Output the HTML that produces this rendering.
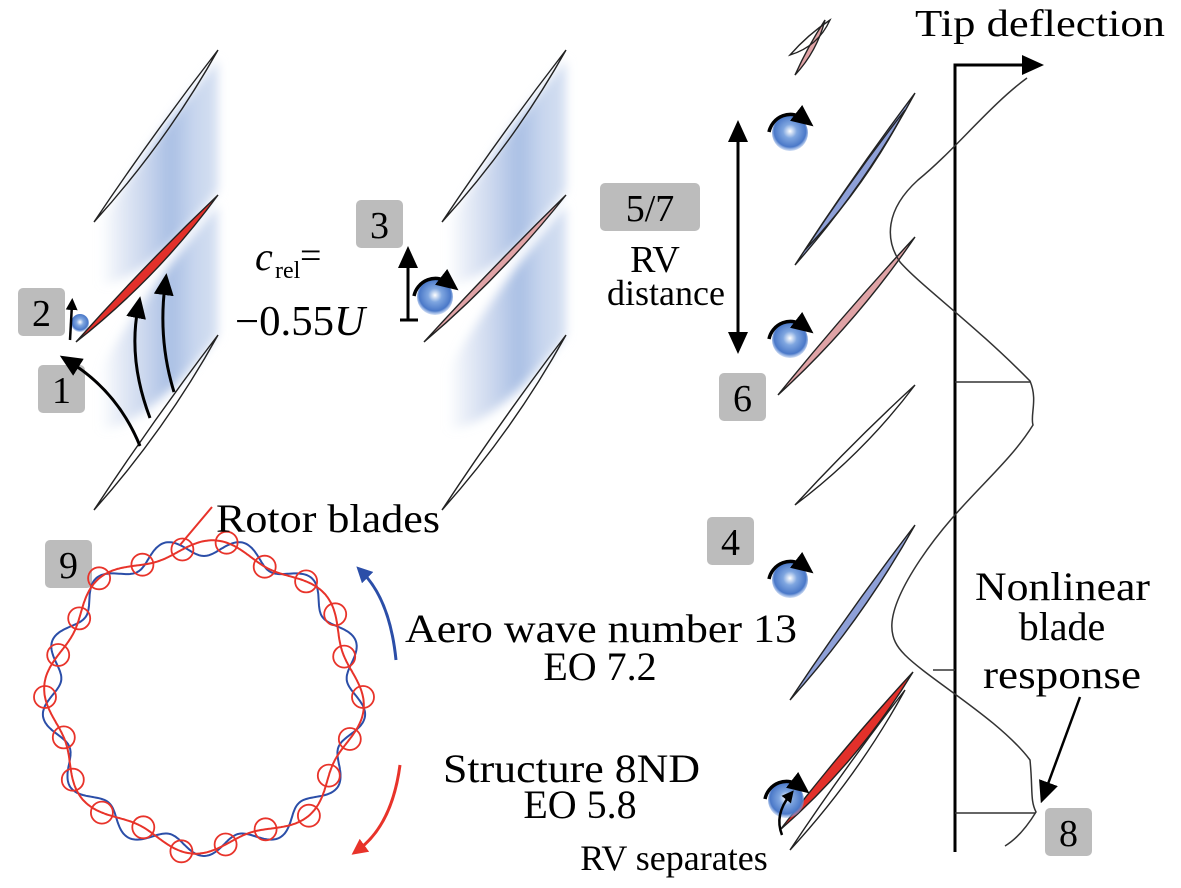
<!DOCTYPE html>
<html><head><meta charset="utf-8"><style>
html,body{margin:0;padding:0;background:#fff;}
svg{display:block;font-family:"Liberation Serif",serif;}
</style></head><body>
<svg id="s" width="1181" height="888" viewBox="0 0 1181 888" xmlns="http://www.w3.org/2000/svg">
<defs>
<radialGradient id="ball" cx="0.5" cy="0.45" r="0.55">
<stop offset="0" stop-color="#fff"/><stop offset="0.35" stop-color="#7fa6e0"/><stop offset="0.8" stop-color="#4a78c8"/><stop offset="1" stop-color="#8fb0e6" stop-opacity="0.4"/>
</radialGradient>
<linearGradient id="band" x1="0" y1="0" x2="1" y2="0">
<stop offset="0" stop-color="#c6d4ec" stop-opacity="0"/><stop offset="0.35" stop-color="#cfdaef"/><stop offset="0.6" stop-color="#a9bfe4"/><stop offset="0.8" stop-color="#c8d6ee"/><stop offset="1" stop-color="#d5e0f2"/>
</linearGradient>
<filter id="bl" x="-20%" y="-20%" width="140%" height="140%"><feGaussianBlur stdDeviation="5"/></filter>
<marker id="ah" markerWidth="12" markerHeight="12" refX="6" refY="6" orient="auto" markerUnits="userSpaceOnUse" viewBox="0 0 12 12"><path d="M0,0 L12,6 L0,12 z"/></marker>
<marker id="ahb" markerWidth="22" markerHeight="20" refX="10" refY="10" orient="auto" markerUnits="userSpaceOnUse" viewBox="0 0 22 20"><path d="M0,0 L22,10 L0,20 z" fill="#000"/></marker>
<marker id="ahblue" markerWidth="16" markerHeight="16" refX="8" refY="8" orient="auto" markerUnits="userSpaceOnUse" viewBox="0 0 16 16"><path d="M0,0 L16,8 L0,16 z" fill="#2b4ea8"/></marker>
<marker id="ahred" markerWidth="16" markerHeight="16" refX="8" refY="8" orient="auto" markerUnits="userSpaceOnUse" viewBox="0 0 16 16"><path d="M0,0 L16,8 L0,16 z" fill="#e8332a"/></marker>
</defs>
<g id="g"></g>

<text x="915" y="36" font-size="38" textLength="250" lengthAdjust="spacingAndGlyphs">Tip deflection</text>
<text x="255" y="270" font-size="40" font-style="italic">c</text><text x="275" y="278" font-size="24">rel</text><text x="300" y="268" font-size="38">=</text>
<text x="235" y="335" font-size="42" textLength="130" lengthAdjust="spacingAndGlyphs">−0.55<tspan font-style="italic">U</tspan></text>
<text x="655" y="272" font-size="38" text-anchor="middle">RV</text>
<text x="666" y="305" font-size="36" text-anchor="middle">distance</text>
<text x="216" y="532" font-size="40" textLength="224" lengthAdjust="spacingAndGlyphs">Rotor blades</text>
<text x="405" y="642" font-size="40" textLength="392" lengthAdjust="spacingAndGlyphs">Aero wave number 13</text>
<text x="600" y="680" font-size="40" text-anchor="middle">EO 7.2</text>
<text x="443" y="782" font-size="40" textLength="257" lengthAdjust="spacingAndGlyphs">Structure 8ND</text>
<text x="580" y="818" font-size="40" text-anchor="middle">EO 5.8</text>
<text x="674" y="870" font-size="36" text-anchor="middle">RV separates</text>
<text x="975" y="600" font-size="40" textLength="175" lengthAdjust="spacingAndGlyphs">Nonlinear</text>
<text x="1062" y="640" font-size="40" text-anchor="middle">blade</text>
<text x="983" y="688" font-size="40" textLength="158" lengthAdjust="spacingAndGlyphs">response</text>
</svg>
<script>
var g=document.getElementById('g');var h='';
function add(s){h+=s;}
function bands(ox){
 for(var k=0;k<2;k++){
  var y0=[50,195][k];
  add('<path d="M'+(ox+218)+','+(y0+10)+' L'+(ox+218)+','+(y0+140)+' Q'+(ox+150)+','+(y0+230)+' '+(ox+100)+','+(y0+235)+' L'+(ox+100)+','+(y0+175)+' Q'+(ox+150)+','+(y0+90)+' '+(ox+218)+','+(y0+10)+' z" fill="url(#band)" filter="url(#bl)"/>');
 }
}
bands(0);bands(348);
function blade(x1,y1,x2,y2,fill,w){
 var mx=(x1+x2)/2,my=(y1+y2)/2,dx=x2-x1,dy=y2-y1,L=Math.hypot(dx,dy),nx=-dy/L,ny=dx/L;
 w=w||6;
 var c1=(mx+nx*w*2)+','+(my+ny*w*2),c2=(mx-nx*w*0.6)+','+(my-ny*w*0.6);
 add('<path d="M'+x1+','+y1+' Q'+c1+' '+x2+','+y2+' Q'+c2+' '+x1+','+y1+' z" fill="'+(fill||'none')+'" stroke="#222" stroke-width="1.4"/>');
}
blade(94,222,218,50);blade(76,342,218,195,'#e2302a',7);blade(94,510,218,335);
blade(442,222,566,50);blade(424,342,566,195,'#e0a3a6',5);blade(442,510,566,335);
blade(795,75,825,20,'#e0a3a6',4);blade(790,55,830,20);
blade(795,265,915,93,'#8ea0d8',6);blade(805,250,905,110);
blade(778,395,915,237,'#e0a3a6',6);
blade(795,505,915,385);
blade(790,700,915,525,'#8ea0d8',6);
blade(780,830,913,672,'#e2302a',8);blade(790,850,905,690);
function box(x,y,w,t){add('<rect x="'+x+'" y="'+y+'" width="'+w+'" height="48" rx="5" fill="#bcbcbc"/><text x="'+(x+w/2)+'" y="'+(y+38)+'" font-size="38" text-anchor="middle">'+t+'</text>');}
box(18,288,47,'2');box(38,365,47,'1');box(356,200,47,'3');box(600,183,100,'5/7');box(719,373,47,'6');box(707,517,47,'4');box(1045,808,47,'8');box(45,540,47,'9');
function vort(x,y,r){
 add('<circle cx="'+x+'" cy="'+y+'" r="'+r+'" fill="url(#ball)"/>');
 add('<path d="M'+(x-r-3)+','+(y-1)+' A'+(r+4)+','+(r+4)+' 0 0 1 '+(x+r-4)+','+(y-r+4)+'" fill="none" stroke="#000" stroke-width="3.5" marker-end="url(#ahb)"/>');
}
vort(790,133,18);vort(790,340,18);vort(790,580,18);vort(786,800,18);vort(435,297,18);
add('<circle cx="80" cy="323" r="9" fill="url(#ball)"/>');
add('<path d="M140,446 Q118,392 70,362" fill="none" stroke="#000" stroke-width="3" marker-end="url(#ahb)"/>');
add('<path d="M150,418 Q128,360 138,308" fill="none" stroke="#000" stroke-width="3" marker-end="url(#ahb)"/>');
add('<path d="M174,392 Q158,340 165,285" fill="none" stroke="#000" stroke-width="3" marker-end="url(#ahb)"/>');
add('<path d="M70,340 L72,304" fill="none" stroke="#000" stroke-width="2.5" marker-end="url(#ah)"/>');
add('<path d="M782,835 Q774,815 790,795" fill="none" stroke="#000" stroke-width="2.5" marker-end="url(#ah)"/>');
add('<path d="M408,320 L408,258" stroke="#000" stroke-width="3" marker-end="url(#ahb)"/><path d="M400,320 L418,320" stroke="#000" stroke-width="3"/>');
add('<path d="M738,340 L738,132" stroke="#000" stroke-width="3" marker-end="url(#ahb)"/><path d="M738,132 L738,342" stroke="#000" stroke-width="3" marker-end="url(#ahb)"/>');
add('<path d="M955,852 L955,65 L1032,65" fill="none" stroke="#000" stroke-width="3" marker-end="url(#ahb)"/>');
add('<path d="M1027,78 C990,105 955,150 918,180 C885,210 885,240 900,262 C920,285 975,325 1030,381 C1038,400 1030,415 1033,425 C1005,470 960,500 920,560 C880,620 890,640 905,655 C930,680 1000,720 1030,760 C1033,790 1030,800 1036,812 C1025,830 1015,840 1005,846" fill="none" stroke="#333" stroke-width="1.5"/>');
add('<path d="M955,382 L1030,382 M933,670 L955,670 M955,813 L1035,813" stroke="#333" stroke-width="1.5"/>');
add('<path d="M1080,697 L1045,792" stroke="#000" stroke-width="2.5" marker-end="url(#ahb)"/>');
var cx=204,cy=697,R=150,XF=1.02;
function ring(n,a,ph,col){var d='';for(var i=0;i<=720;i++){var t=i/720*2*Math.PI;var r=R+a*Math.sin(n*t+ph);var x=cx+r*Math.cos(t)*XF,y=cy+r*Math.sin(t);d+=(i?'L':'M')+x.toFixed(1)+','+y.toFixed(1);}add('<path d="'+d+'z" fill="none" stroke="'+col+'" stroke-width="2"/>');}
ring(13,9,0,'#2b4ea8');ring(8,7,1,'#e8332a');
for(var i=0;i<22;i++){var t=i/22*2*Math.PI;var r=R+7*Math.sin(8*t+1);add('<circle cx="'+(cx+r*Math.cos(t)*XF).toFixed(1)+'" cy="'+(cy+r*Math.sin(t)).toFixed(1)+'" r="11" fill="none" stroke="#e8332a" stroke-width="1.8"/>');}
add('<path d="M212,507 L180,545" stroke="#e8332a" stroke-width="2"/>');
add('<path d="M396,660 Q390,600 362,572" fill="none" stroke="#2b4ea8" stroke-width="3" marker-end="url(#ahblue)"/>');
add('<path d="M400,765 Q392,825 358,850" fill="none" stroke="#e8332a" stroke-width="3" marker-end="url(#ahred)"/>');
g.innerHTML=h;
</script>
</body></html>
